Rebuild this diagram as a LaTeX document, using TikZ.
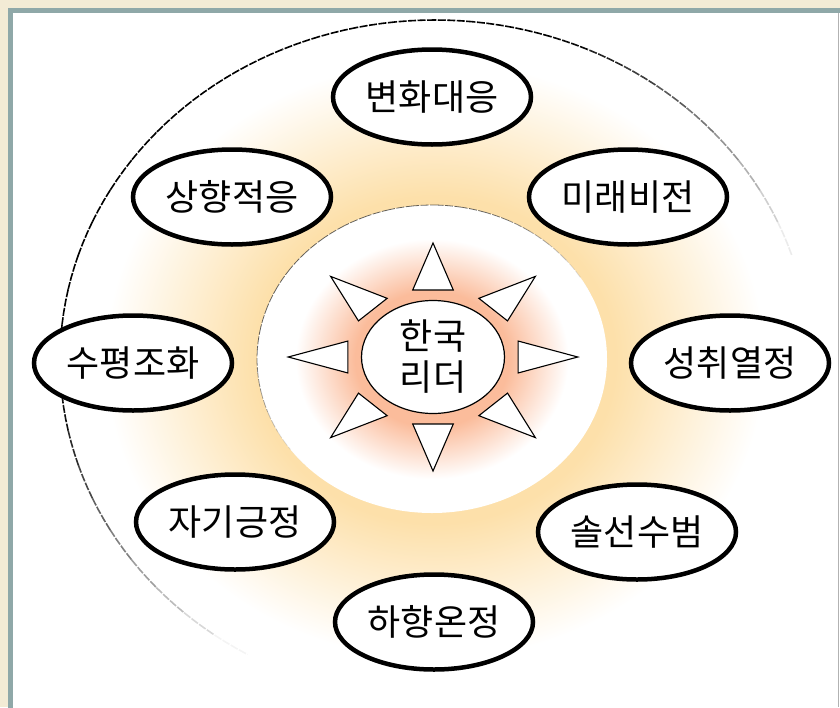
\documentclass[tikz,border=0pt]{standalone}
\usepackage{fontspec}
\newfontfamily\kr{Noto Sans CJK KR}
\usetikzlibrary{shapes.geometric}
\definecolor{frametan}{RGB}{243,235,213}
\definecolor{frameteal}{RGB}{143,168,168}
\definecolor{bandgold}{RGB}{253,224,170}
\definecolor{sunpink}{RGB}{251,188,155}
\pgfdeclareradialshading{bandglow}{\pgfpoint{0bp}{0bp}}{color(0bp)=(bandgold); color(12bp)=(bandgold); color(22bp)=(white); color(25bp)=(white); color(50bp)=(white)}
\pgfdeclareradialshading{sunglow}{\pgfpoint{0bp}{0bp}}{color(0bp)=(sunpink); color(11bp)=(sunpink); color(19.5bp)=(white); color(25bp)=(white); color(50bp)=(white)}
\tikzset{
  virtue/.style={ellipse, draw, line width=4.5pt, fill=white, minimum width=198pt, minimum height=95pt, inner sep=0pt, font=\kr\fontsize{36}{41}\selectfont},
  leader/.style={ellipse, draw, line width=1.2pt, fill=white, minimum width=143pt, minimum height=113pt, inner sep=0pt, align=center, font=\kr\fontsize{36}{41}\selectfont},
  ray/.style={draw, fill=white, line width=1.1pt, line join=miter},
  rim/.style={dash pattern=on 8pt off 1.5pt, line width=1.6pt},
}

\begin{document}
\begin{tikzpicture}[x=1pt,y=-1pt]
\useasboundingbox (0,0) rectangle (840,707);
\clip (0,0) rectangle (840,707);
\fill[frametan] (0,0) rectangle (840,707);
\draw[frameteal, line width=5pt, fill=white] (10.5,10.5) rectangle (860,730);
\draw[gray!60, line width=1.5pt] (838.5,13) -- (838.5,707);
\shade[shading=bandglow] (435,360) ellipse [x radius=375pt, y radius=340pt];
\foreach \t in {0,6,...,354} {
  \pgfmathsetmacro\op{min(1,max(0,0.4+1.1*cos(\t-125)))}
  \draw[rim, opacity=\op, domain=\t:\t+6, samples=4, variable=\s]
    plot ({435+375*cos(\s)},{360-340*sin(\s)});
}
\shade[shading=sunglow] (432,359) ellipse [x radius=175pt, y radius=154pt];
\foreach \t in {0,8,...,352} {
  \pgfmathsetmacro\op{min(0.6,max(0,0.1+0.8*cos(\t-120)))}
  \draw[rim, line width=0.8pt, opacity=\op, domain=\t:\t+8, samples=4, variable=\s]
    plot ({432+175*cos(\s)},{359-154*sin(\s)});
}
\begin{scope}[shift={(433,357)}, xscale=1.27]
\foreach \a in {0,45,...,315}
  \draw[ray] (\a:114) -- (\a+13.4:68.9) -- (\a-13.4:68.9) -- cycle;
\end{scope}
\node[leader] (leader) at (433,357) {한국\\리더};
\node[virtue] (change) at (432,97) {변화대응};
\node[virtue] (vision) at (628,197) {미래비전};
\node[virtue] (passion) at (730,363) {성취열정};
\node[virtue] (example) at (637,532) {솔선수범};
\node[virtue] (warmth) at (434,622) {하향온정};
\node[virtue] (selfpos) at (235,522) {자기긍정};
\node[virtue] (harmony) at (133,363) {수평조화};
\node[virtue] (adapt) at (232,197) {상향적응};
\end{tikzpicture}
\end{document}
